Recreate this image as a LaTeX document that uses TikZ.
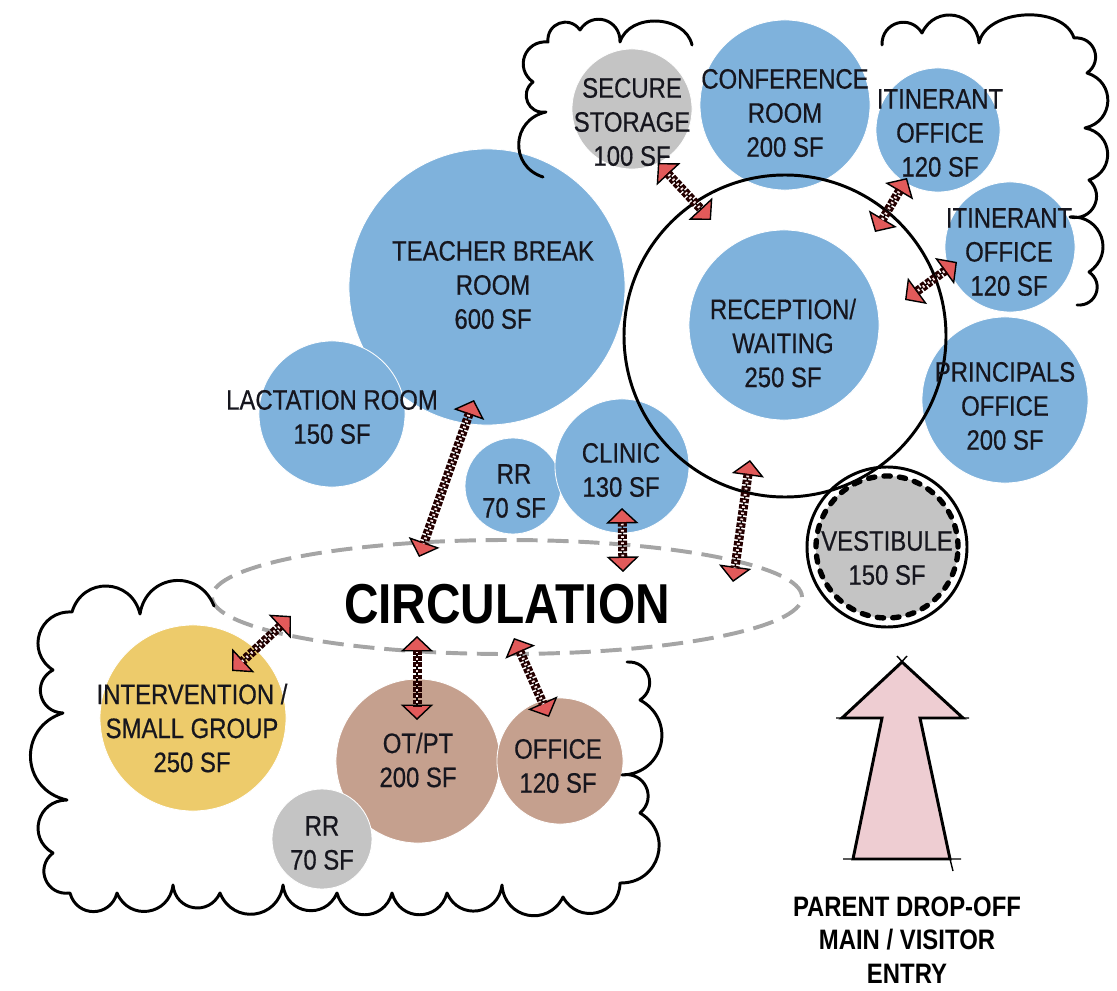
\documentclass[tikz,border=0pt]{standalone}
\usepackage{fontspec}
\setmainfont{Liberation Sans}[FakeStretch=0.85]
\newfontfamily\roomfont{Liberation Sans}[FakeStretch=0.85, FakeBold=0.5]
\usetikzlibrary{arrows.meta,shapes.geometric}

\definecolor{roomblue}{RGB}{127,178,220}
\definecolor{roomgray}{RGB}{196,196,196}
\definecolor{roomyellow}{RGB}{237,203,107}
\definecolor{roombrown}{RGB}{197,160,142}
\definecolor{arrowred}{RGB}{226,90,90}
\definecolor{linkpink}{RGB}{250,232,232}
\definecolor{entrypink}{RGB}{238,205,210}
\definecolor{circgray}{RGB}{165,165,165}
\definecolor{inktext}{RGB}{22,22,30}

\tikzset{
  room/.style={circle, inner sep=0pt, minimum size=#1*0.05cm, draw=white, line width=0.6pt},
  blueroom/.style={room=#1, fill=roomblue},
  grayroom/.style={room=#1, fill=roomgray},
  yellowroom/.style={room=#1, fill=roomyellow},
  brownroom/.style={room=#1, fill=roombrown},
  roomtext/.style={align=center, inner sep=0pt, text=inktext, font=\roomfont\fontsize{20}{24.2}\selectfont},
  linktip/.style={line width=1pt, {Triangle[width=23pt,length=11pt,fill=arrowred]}-{Triangle[width=23pt,length=11pt,fill=arrowred]}},
  linkshaft/.style={line width=6.4pt, draw=black!80!red!70!black, dash pattern=on 3.2pt off 1.2pt, shorten <=10pt, shorten >=10pt},
  linkcore/.style={line width=2pt, draw=linkpink, dash pattern=on 1.2pt off 3.2pt, dash phase=3.2pt, shorten <=10pt, shorten >=10pt},
  puff/.style={bend left=75, looseness=1.4},
  puffr/.style={bend right=75, looseness=1.4},
  cloudline/.style={line width=2.1pt, line join=round, line cap=round},
  sketchtick/.style={line width=1pt}
}

\begin{document}
\begin{tikzpicture}[x=0.025cm, y=-0.025cm]
  \useasboundingbox (0,0) rectangle (1117,991);

  % rooms
  \path
    (487,287) node[blueroom=138] (teacher) {}
    (332,414) node[blueroom=73] (lactation) {}
    (513,486) node[blueroom=48] (rr1) {}
    (622,466) node[blueroom=67] (clinic) {}
    (784,325) node[blueroom=95] (reception) {}
    (785,105) node[blueroom=85] (conference) {}
    (632,109) node[grayroom=60] (storage) {}
    (938,130) node[blueroom=62] (itin1) {}
    (1010,247) node[blueroom=65] (itin2) {}
    (1005,400) node[blueroom=83] (principals) {}
    (193,718) node[yellowroom=93] (interv) {}
    (418,761) node[brownroom=82] (otpt) {}
    (560,761) node[brownroom=63] (office) {}
    (322,839) node[grayroom=50] (rr2) {};

  % vestibule
  \node[circle, minimum size=160*0.025cm, draw=black, line width=2.1pt, fill=white] (vestibule) at (887,547) {};
  \node[circle, minimum size=142*0.025cm, fill=roomgray, draw=black, line width=3.8pt,
        line cap=round, dash pattern=on 4.5pt off 6.5pt] (vestibule-in) at (887,547) {};

  % reception ring
  \node[circle, minimum size=322*0.025cm, draw=black, line width=2.1pt] (waitring) at (785,336) {};

  % labels
  \path
    (632,122) node[roomtext] (storage-txt) {SECURE\\STORAGE\\100 SF}
    (785,113) node[roomtext] (conference-txt) {CONFERENCE\\ROOM\\200 SF}
    (940,133) node[roomtext] (itin1-txt) {ITINERANT\\OFFICE\\120 SF}
    (1009,252) node[roomtext] (itin2-txt) {ITINERANT\\OFFICE\\120 SF}
    (493,285) node[roomtext] (teacher-txt) {TEACHER BREAK\\ROOM\\600 SF}
    (783,343) node[roomtext] (reception-txt) {RECEPTION/\\WAITING\\250 SF}
    (1005,406) node[roomtext] (principals-txt) {PRINCIPALS\\OFFICE\\200 SF}
    (332,417) node[roomtext] (lactation-txt) {LACTATION ROOM\\150 SF}
    (514,491) node[roomtext] (rr1-txt) {RR\\70 SF}
    (621,470) node[roomtext] (clinic-txt) {CLINIC\\130 SF}
    (887,558) node[roomtext] (vestibule-txt) {VESTIBULE\\150 SF}
    (192,728) node[roomtext] (interv-txt) {INTERVENTION /\\SMALL GROUP\\250 SF}
    (418,760) node[roomtext] (otpt-txt) {OT/PT\\200 SF}
    (558,766) node[roomtext] (office-txt) {OFFICE\\120 SF}
    (322,843) node[roomtext] (rr2-txt) {RR\\70 SF};

  % circulation
  \node[ellipse, minimum width=590*0.025cm, minimum height=114*0.025cm, draw=circgray,
        line width=2.8pt, dash pattern=on 15pt off 7pt] (circulation) at (507,597) {};
  \node[inner sep=0pt, text=black, font=\bfseries\fontsize{40}{48}\selectfont] (circulation-txt) at (507,604) {CIRCULATION};

  % link ends
  \coordinate (storage-a) at (658,163);   \coordinate (storage-b) at (711,220);
  \coordinate (itin1-a) at (907,178);     \coordinate (itin1-b) at (875,232);
  \coordinate (itin2-a) at (957,262);     \coordinate (itin2-b) at (905,300);
  \coordinate (teacher-a) at (474,400);   \coordinate (teacher-b) at (419,557);
  \coordinate (clinic-a) at (622,508);    \coordinate (clinic-b) at (623,572);
  \coordinate (reception-a) at (750,460); \coordinate (reception-b) at (733,582);
  \coordinate (interv-a) at (291,616);    \coordinate (interv-b) at (232,671);
  \coordinate (otpt-a) at (417,636);      \coordinate (otpt-b) at (417,720);
  \coordinate (office-a) at (514,638);    \coordinate (office-b) at (549,717);

  \foreach \a in {storage,itin1,itin2,teacher,clinic,reception,interv,otpt,office} {
    \draw[linktip] (\a-a) -- (\a-b);
    \draw[linkshaft] (\a-a) -- (\a-b);
    \draw[linkcore] (\a-a) -- (\a-b);
  }

  % clouds
  \draw[cloudline] (543,177) to[puff] (546,112) to[puff] (533,82) to[puff] (548,42)
    to[puff] (580,30) to[puff] (620,42) to[puff, looseness=1.1] (692,45);
  \draw[cloudline] (882,45) to[puff] (922,33) to[puff] (979,43) to[puff, looseness=0.95] (1074,38)
    to[puff] (1087,73) to[puff] (1085,128) to[puff] (1089,180) to[puff] (1070,217)
    to[puff] (1089,272) to[puff] (1077,305);
  \draw[cloudline] (214,606) to[puffr] (140,614) to[puffr] (72,612) to[puffr] (53,670)
    to[puffr] (63,713) to[puffr] (67,800) to[puffr] (53,853) to[puffr] (70,893)
    to[puffr] (117,893) to[puffr] (173,885) to[puffr] (220,893) to[puffr] (283,885)
    to[puffr] (337,893) to[puffr] (392,893) to[puffr] (447,893) to[puffr] (502,885)
    to[puffr] (563,897) to[puffr] (620,883) to[puffr] (640,813) to[puffr] (622,775)
    to[puffr] (640,700) to[puffr] (627,662);

  % entry
  \draw[line width=2.1pt, fill=entrypink, line join=miter]
    (902,662) -- (963,718) -- (920,718) -- (950,859) -- (853,859) -- (882,718) -- (842,718) -- cycle;
  \draw[sketchtick] (897,656) -- (907,667) (907,656) -- (897,667)
    (836,718) -- (848,718) (957,718) -- (969,718)
    (843,859) -- (961,859) (950,859) -- (953,871);
  \node[align=center, inner sep=0pt, text=black, font=\bfseries\fontsize{20}{23.8}\selectfont]
    (entry-txt) at (907,940) {PARENT DROP-OFF\\MAIN / VISITOR\\ENTRY};
\end{tikzpicture}
\end{document}
